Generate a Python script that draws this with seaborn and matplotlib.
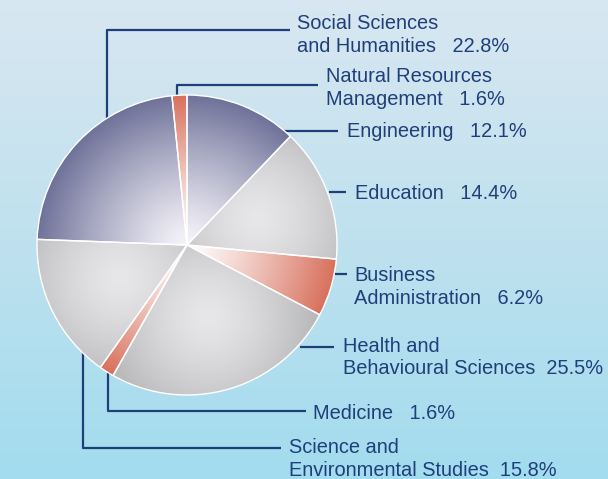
import numpy as np
import matplotlib
matplotlib.use('Agg')
import matplotlib.pyplot as plt
import seaborn as sns
from matplotlib.colors import to_rgb

# Share of students by field of study (%), clockwise from the top
fields = ['Engineering', 'Education', 'Business\nAdministration',
          'Health and\nBehavioural Sciences', 'Medicine',
          'Science and\nEnvironmental Studies', 'Social Sciences\nand Humanities',
          'Natural Resources\nManagement']
shares = [12.1, 14.4, 6.2, 25.5, 1.6, 15.8, 22.8, 1.6]
tones = ['navy', 'grey', 'salmon', 'grey', 'salmon', 'grey', 'navy', 'salmon']

W, H = 608, 479
CX, CY, R = 187, H - 245, 150
TEXT = '#1f3f7a'
LINE_STEP = 22.5

# label anchors (image pixels): text left / first baseline, then leader path
label_xy = [(347, 137), (355, 199), (354, 281), (343, 352),
            (313, 419), (289, 453), (297, 29), (326, 82)]
leaders = [
    [(283, 131), (338, 131)],
    [(329, 192), (346, 192)],
    [(335, 274), (347, 274)],
    [(300, 347), (334, 347)],
    [(108, 373), (108, 411), (306, 411)],
    [(83, 353), (83, 448), (281, 448)],
    [(107, 118), (107, 30), (290, 30)],
    [(177, 96), (177, 85), (318, 85)],
]
gaps = ['   ', '   ', '   ', '  ', '   ', '  ', '   ', '   ']

palette = {
    'navy': ('#f6f4fa', '#6f7299'),
    'salmon': ('#ffffff', '#d8705c'),
    'grey': ('#e7e7e9', '#bababc'),
}

sns.set_style('white')
plt.rcParams['font.family'] = ['Liberation Sans', 'DejaVu Sans']

fig = plt.figure(figsize=(W / 100, H / 100), dpi=100)
ax = fig.add_axes([0, 0, 1, 1])

# background gradient, light at the top, cyan-ish at the bottom
stops = [0.0, 0.5, 1.0]
stop_cols = np.array([to_rgb(c) for c in ('#d8e7f1', '#bfe1ee', '#a2dcef')])
pos = np.linspace(0, 1, 256)
bg = np.stack([np.interp(pos, stops, stop_cols[:, k]) for k in range(3)], axis=-1)
bg = np.repeat(bg[:, None, :], 4, axis=1)
ax.imshow(bg, extent=[0, W, 0, H], aspect='auto', zorder=0, origin='upper')

wedges, _ = ax.pie(shares, startangle=90, counterclock=False, center=(CX, CY), radius=R,
                   colors=[palette[t][1] for t in tones],
                   wedgeprops=dict(edgecolor='white', linewidth=1.0))

# radial shading inside every wedge
N = 400
xs = np.linspace(CX - R, CX + R, N)
ys = np.linspace(CY - R, CY + R, N)
gx, gy = np.meshgrid(xs, ys)
for w, tone in zip(wedges, tones):
    c0, c1 = (np.array(to_rgb(c)) for c in palette[tone])
    if tone == 'grey':
        mid_a = np.deg2rad((w.theta1 + w.theta2) / 2)
        fx, fy = CX + 0.5 * R * np.cos(mid_a), CY + 0.5 * R * np.sin(mid_a)
        t = np.clip(np.hypot(gx - fx, gy - fy) / (0.7 * R), 0, 1) ** 1.4
    else:
        t = np.clip(np.hypot(gx - CX, gy - CY) / R, 0, 1) ** 1.2
    img = c0 + (c1 - c0) * t[..., None]
    im = ax.imshow(img, extent=[CX - R, CX + R, CY - R, CY + R], origin='lower',
                   zorder=2, interpolation='bilinear')
    im.set_clip_path(w)
    w.set_facecolor('none')
    w.set_zorder(3)

for name, share, gap, (tx, ty), path in zip(fields, shares, gaps, label_xy, leaders):
    px = [p[0] for p in path]
    py = [H - p[1] for p in path]
    ax.plot(px, py, color=TEXT, lw=1.6, zorder=1.5, solid_capstyle='butt')
    lines = name.split('\n')
    lines[-1] = f'{lines[-1]}{gap}{share}%'
    for i, line in enumerate(lines):
        ax.text(tx, H - ty - i * LINE_STEP, line, color=TEXT, fontsize=14.4,
                ha='left', va='baseline', zorder=4)

ax.set_xlim(0, W)
ax.set_ylim(0, H)
ax.set_aspect('equal')
ax.axis('off')
fig.savefig('out.png', dpi=100)
